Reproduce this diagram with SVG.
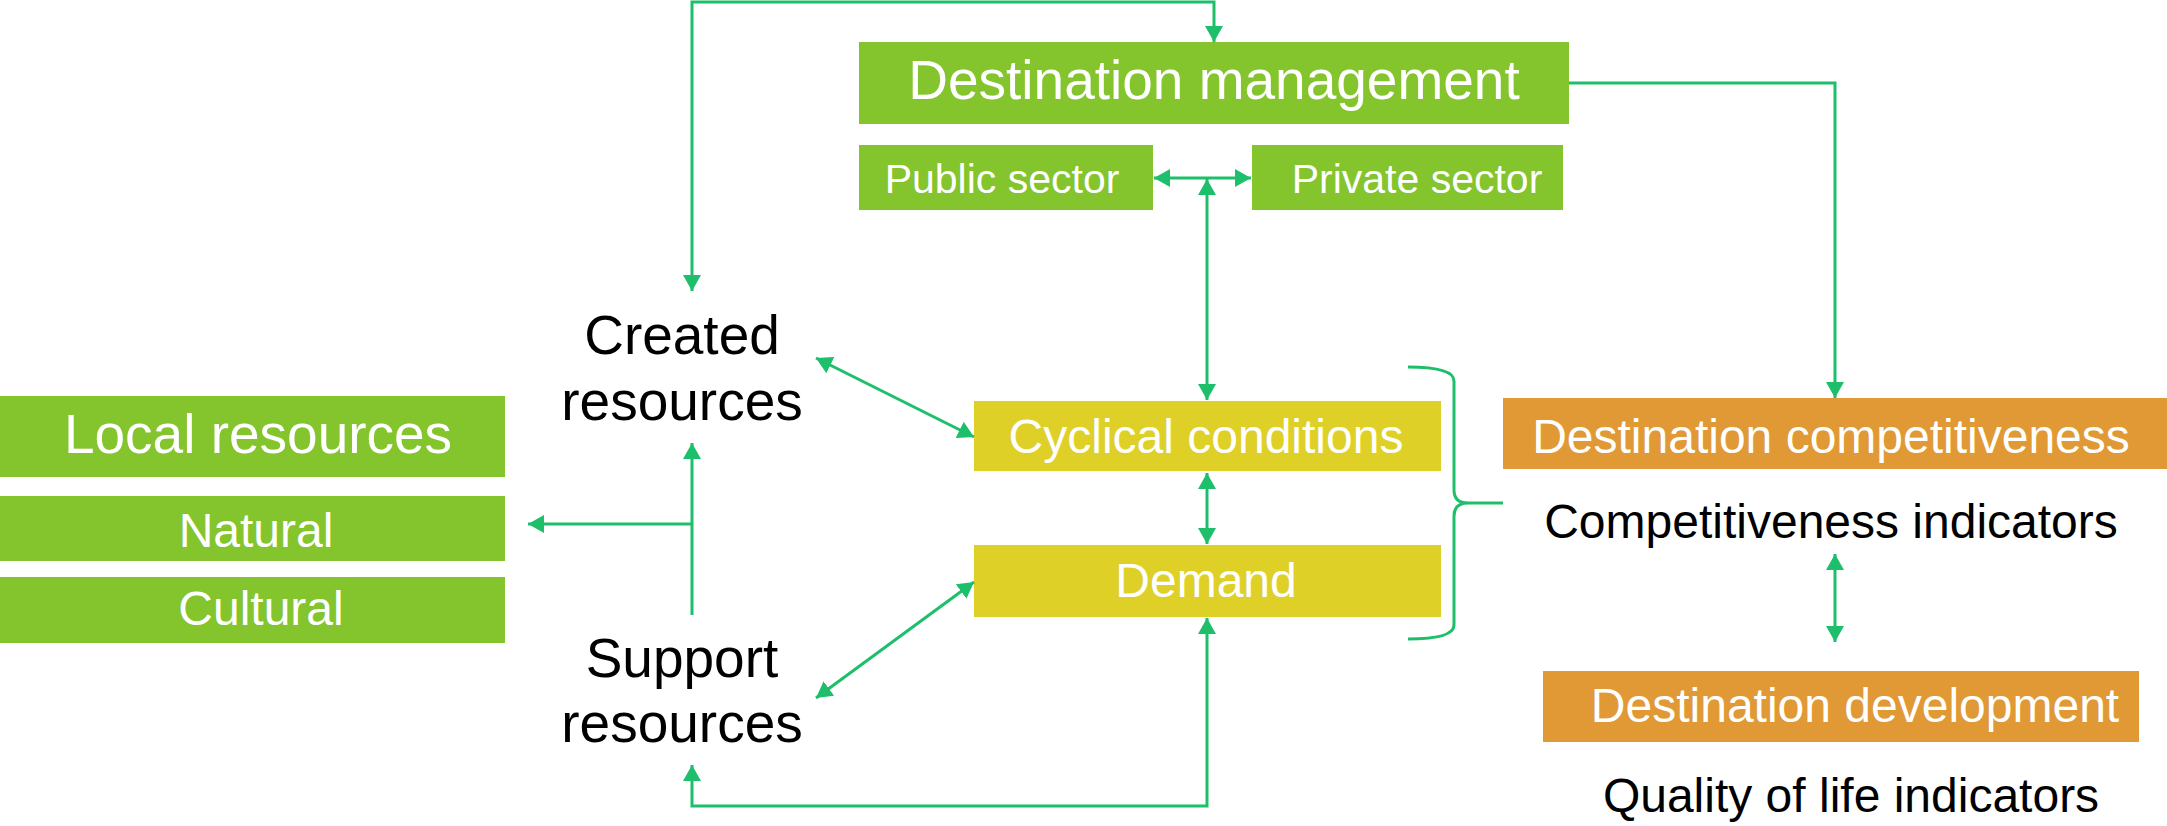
<svg xmlns="http://www.w3.org/2000/svg" width="2167" height="826" viewBox="0 0 2167 826">
<style>
text{font-family:"Liberation Sans",Arial,Helvetica,sans-serif;text-anchor:middle}
.w{fill:#ffffff}
.k{fill:#000000}
.g{fill:#84C42C}
.y{fill:#DFD028}
.o{fill:#E09934}
.c{fill:none;stroke:#1DBF6B;stroke-width:3}
.f55{font-size:55px}
.f48{font-size:48px}
.f41{font-size:41px}
</style>
<defs>
<marker id="ah" markerUnits="userSpaceOnUse" markerWidth="18" markerHeight="18" refX="16" refY="9" orient="auto-start-reverse">
<path d="M0,0 L16,9 L0,18 z" fill="#1DBF6B"/>
</marker>
</defs>
<rect width="2167" height="826" fill="#ffffff"/>
<g id="destination-management"><rect class="g" x="859" y="42" width="710" height="82"/><text class="w f55" x="1214" y="99">Destination management</text></g>
<g id="public-sector"><rect class="g" x="859" y="145" width="294" height="65"/><text class="w f41" x="1002" y="193">Public sector</text></g>
<g id="private-sector"><rect class="g" x="1252" y="145" width="311" height="65"/><text class="w f41" x="1417" y="193">Private sector</text></g>
<g id="local-resources"><rect class="g" x="0" y="396" width="505" height="81"/><text class="w f55" x="258" y="453">Local resources</text></g>
<g id="natural"><rect class="g" x="0" y="496" width="505" height="65"/><text class="w f48" x="256" y="547">Natural</text></g>
<g id="cultural"><rect class="g" x="0" y="577" width="505" height="66"/><text class="w f48" x="261" y="625">Cultural</text></g>
<g id="created-resources"><text class="k f55" x="682" y="354">Created</text><text class="k f55" x="682" y="420">resources</text></g>
<g id="support-resources"><text class="k f55" x="682" y="677">Support</text><text class="k f55" x="682" y="742">resources</text></g>
<g id="cyclical-conditions"><rect class="y" x="974" y="401" width="467" height="70"/><text class="w f48" x="1206" y="453">Cyclical conditions</text></g>
<g id="demand"><rect class="y" x="974" y="545" width="467" height="72"/><text class="w f48" x="1206" y="597">Demand</text></g>
<g id="destination-competitiveness"><rect class="o" x="1503" y="398" width="664" height="71"/><text class="w f48" x="1831" y="453">Destination competitiveness</text></g>
<g id="competitiveness-indicators"><text class="k f48" x="1831" y="538">Competitiveness indicators</text></g>
<g id="destination-development"><rect class="o" x="1543" y="671" width="596" height="71"/><text class="w f48" x="1855" y="722">Destination development</text></g>
<g id="quality-of-life-indicators"><text class="k f48" x="1851" y="812">Quality of life indicators</text></g>
<g id="connectors">
<path class="c" d="M692,291 V2 H1214 V42" marker-start="url(#ah)" marker-end="url(#ah)"/>
<path class="c" d="M1569,83 H1835 V398" marker-end="url(#ah)"/>
<path class="c" d="M1154,178 H1251" marker-start="url(#ah)" marker-end="url(#ah)"/>
<path class="c" d="M1207,179 V400" marker-start="url(#ah)" marker-end="url(#ah)"/>
<path class="c" d="M816,358 L974,437" marker-start="url(#ah)" marker-end="url(#ah)"/>
<path class="c" d="M816,698 L974,582" marker-start="url(#ah)" marker-end="url(#ah)"/>
<path class="c" d="M1207,473 V544" marker-start="url(#ah)" marker-end="url(#ah)"/>
<path class="c" d="M1207,618 V806 H692 V765" marker-start="url(#ah)" marker-end="url(#ah)"/>
<path class="c" d="M692,615 V443" marker-end="url(#ah)"/>
<path class="c" d="M692,524 H528" marker-end="url(#ah)"/>
<path class="c" d="M1835,554 V642" marker-start="url(#ah)" marker-end="url(#ah)"/>
<path class="c" d="M1408,367 Q1454,367 1454,381 V490 Q1454,503 1468,503 H1503 M1468,503 Q1454,503 1454,516 V625 Q1454,639 1408,639"/>
</g>
</svg>
